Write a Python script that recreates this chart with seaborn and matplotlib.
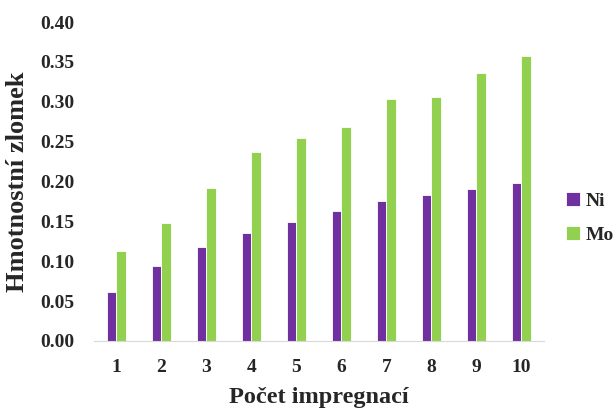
import pandas as pd
import numpy as np
import matplotlib.pyplot as plt
import seaborn as sns

# data
impregnace = [1, 2, 3, 4, 5, 6, 7, 8, 9, 10]
ni = [0.061, 0.094, 0.118, 0.135, 0.149, 0.163, 0.176, 0.183, 0.191, 0.198]
mo = [0.113, 0.148, 0.192, 0.237, 0.255, 0.268, 0.303, 0.306, 0.336, 0.357]
yticks = [0.00, 0.05, 0.10, 0.15, 0.20, 0.25, 0.30, 0.35, 0.40]

df = pd.DataFrame({
    "impregnace": [str(i) for i in impregnace] * 2,
    "zlomek": ni + mo,
    "prvek": ["Ni"] * len(ni) + ["Mo"] * len(mo),
})

sns.set_style("white")
plt.rcParams['font.family'] = ['Liberation Serif', 'DejaVu Serif']
plt.rcParams['font.weight'] = 'bold'

fig = plt.figure(figsize=(6.16, 4.09), dpi=100)
ax = fig.add_axes([0.1526, 0.1663, 0.7304, 0.7797])

sns.barplot(data=df, x="impregnace", y="zlomek", hue="prvek",
            palette={"Ni": "#7030A0", "Mo": "#92D050"}, saturation=1,
            width=0.42, edgecolor="white", linewidth=0.6, ax=ax)

ax.set_ylim(0, 0.40)
ax.set_yticks(yticks)
ax.set_yticklabels([f"{v:.2f}" for v in yticks], fontsize=14, fontweight='bold')
ax.set_xticks(range(len(impregnace)))
ax.set_xticklabels([str(i) for i in impregnace], fontsize=14, fontweight='bold')
ax.tick_params(axis='y', length=0, pad=14)
ax.tick_params(axis='x', length=0, pad=13)

for s in ['top', 'right', 'left']:
    ax.spines[s].set_visible(False)
ax.spines['bottom'].set_color('#D9D9D9')

ax.set_xlabel("Počet impregnací", fontsize=17.5, fontweight='bold', labelpad=8)
ax.set_ylabel("Hmotnostní zlomek", fontsize=19, fontweight='bold', labelpad=8)

ax.legend(loc='center left', bbox_to_anchor=(1.01, 0.386), frameon=False,
          prop={'size': 14, 'weight': 'bold'}, handlelength=0.7,
          handleheight=0.7, handletextpad=0.3, labelspacing=0.85)

plt.savefig("out.png", dpi=100)
